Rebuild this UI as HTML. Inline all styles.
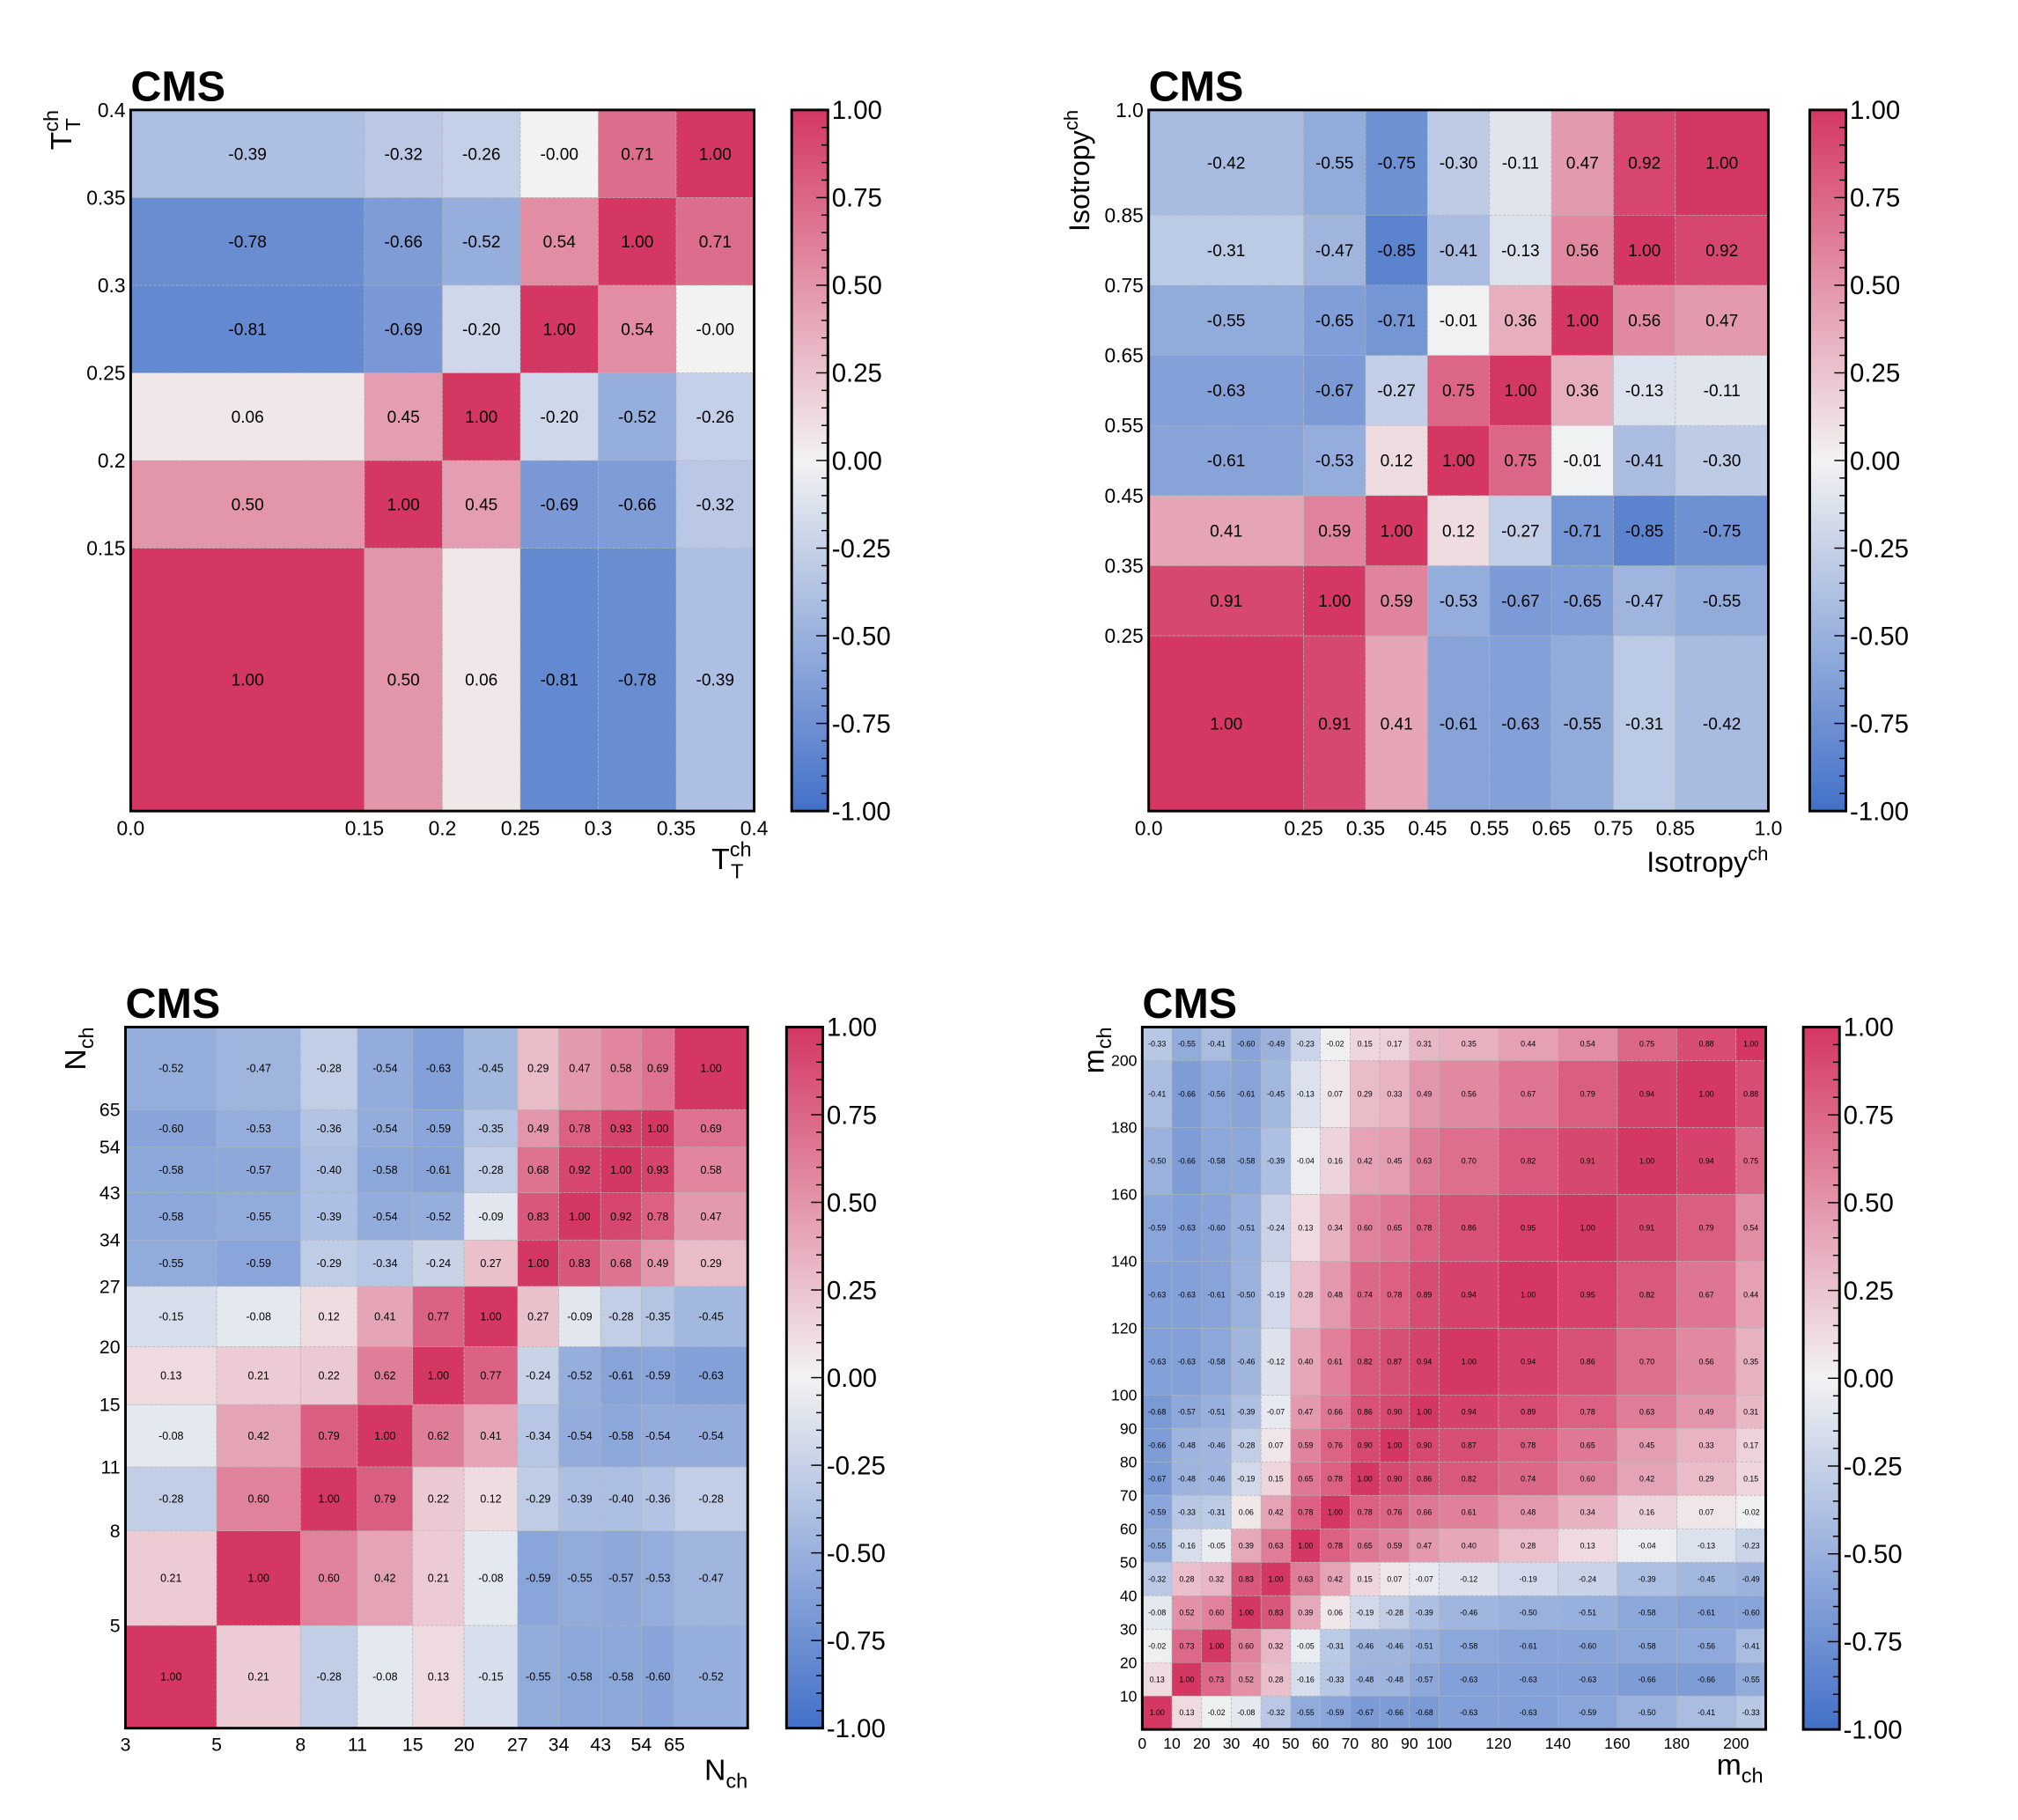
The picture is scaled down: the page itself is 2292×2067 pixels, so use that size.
<!DOCTYPE html>
<html><head><meta charset="utf-8"><style>
html,body{margin:0;padding:0;background:#fff;}
svg{display:block;}
text{font-family:"Liberation Sans",Arial,sans-serif;fill:#000;}
</style></head><body>
<svg id="fig" xmlns="http://www.w3.org/2000/svg" width="2292" height="2067" viewBox="0 0 1560 1407" preserveAspectRatio="none">
<defs>
<linearGradient id="cmap" x1="0" y1="1" x2="0" y2="0">
<stop offset="0" stop-color="rgb(66,112,200)"/>
<stop offset="0.5" stop-color="rgb(242,242,242)"/>
<stop offset="1" stop-color="rgb(212,55,98)"/>
</linearGradient>
</defs>
</svg>
<script>
// ---- data ----
const ttEdges = [0,0.15,0.2,0.25,0.3,0.35,0.4];
const ttTicks = ["0.0","0.15","0.2","0.25","0.3","0.35","0.4"];
const ttTickVals = [0,0.15,0.2,0.25,0.3,0.35,0.4];
const ttYTicks = ["0.15","0.2","0.25","0.3","0.35","0.4"];
const ttYTickVals = [0.15,0.2,0.25,0.3,0.35,0.4];
const ttValues = [
[1.00,0.50,0.06,-0.81,-0.78,-0.39],
[0.50,1.00,0.45,-0.69,-0.66,-0.32],
[0.06,0.45,1.00,-0.20,-0.52,-0.26],
[-0.81,-0.69,-0.20,1.00,0.54,-0.00],
[-0.78,-0.66,-0.52,0.54,1.00,0.71],
[-0.39,-0.32,-0.26,-0.00,0.71,1.00]
];
const isoEdges = [0,0.25,0.35,0.45,0.55,0.65,0.75,0.85,1.0];
const isoTicks = ["0.0","0.25","0.35","0.45","0.55","0.65","0.75","0.85","1.0"];
const isoTickVals = [0,0.25,0.35,0.45,0.55,0.65,0.75,0.85,1.0];
const isoYTicks = ["0.25","0.35","0.45","0.55","0.65","0.75","0.85","1.0"];
const isoYTickVals = [0.25,0.35,0.45,0.55,0.65,0.75,0.85,1.0];
const isoValues = [
[1.00,0.91,0.41,-0.61,-0.63,-0.55,-0.31,-0.42],
[0.91,1.00,0.59,-0.53,-0.67,-0.65,-0.47,-0.55],
[0.41,0.59,1.00,0.12,-0.27,-0.71,-0.85,-0.75],
[-0.61,-0.53,0.12,1.00,0.75,-0.01,-0.41,-0.30],
[-0.63,-0.67,-0.27,0.75,1.00,0.36,-0.13,-0.11],
[-0.55,-0.65,-0.71,-0.01,0.36,1.00,0.56,0.47],
[-0.31,-0.47,-0.85,-0.41,-0.13,0.56,1.00,0.92],
[-0.42,-0.55,-0.75,-0.30,-0.11,0.47,0.92,1.00]
];
const nEdges = [3,5,8,11,15,20,27,34,43,54,65,98];
const nTicks = ["3","5","8","11","15","20","27","34","43","54","65"];
const nTickVals = [3,5,8,11,15,20,27,34,43,54,65];
const nYTicks = ["5","8","11","15","20","27","34","43","54","65"];
const nYTickVals = [5,8,11,15,20,27,34,43,54,65];
const nValues = [
[1.00,0.21,-0.28,-0.08,0.13,-0.15,-0.55,-0.58,-0.58,-0.60,-0.52],
[0.21,1.00,0.60,0.42,0.21,-0.08,-0.59,-0.55,-0.57,-0.53,-0.47],
[-0.28,0.60,1.00,0.79,0.22,0.12,-0.29,-0.39,-0.40,-0.36,-0.28],
[-0.08,0.42,0.79,1.00,0.62,0.41,-0.34,-0.54,-0.58,-0.54,-0.54],
[0.13,0.21,0.22,0.62,1.00,0.77,-0.24,-0.52,-0.61,-0.59,-0.63],
[-0.15,-0.08,0.12,0.41,0.77,1.00,0.27,-0.09,-0.28,-0.35,-0.45],
[-0.55,-0.59,-0.29,-0.34,-0.24,0.27,1.00,0.83,0.68,0.49,0.29],
[-0.58,-0.55,-0.39,-0.54,-0.52,-0.09,0.83,1.00,0.92,0.78,0.47],
[-0.58,-0.57,-0.40,-0.58,-0.61,-0.28,0.68,0.92,1.00,0.93,0.58],
[-0.60,-0.53,-0.36,-0.54,-0.59,-0.35,0.49,0.78,0.93,1.00,0.69],
[-0.52,-0.47,-0.28,-0.54,-0.63,-0.45,0.29,0.47,0.58,0.69,1.00]
];
const mEdges = [0,10,20,30,40,50,60,70,80,90,100,120,140,160,180,200,210];
const mTicks = ["0","10","20","30","40","50","60","70","80","90","100","120","140","160","180","200"];
const mTickVals = [0,10,20,30,40,50,60,70,80,90,100,120,140,160,180,200];
const mYTicks = ["10","20","30","40","50","60","70","80","90","100","120","140","160","180","200"];
const mYTickVals = [10,20,30,40,50,60,70,80,90,100,120,140,160,180,200];
const mValues = [
[1.00,0.13,-0.02,-0.08,-0.32,-0.55,-0.59,-0.67,-0.66,-0.68,-0.63,-0.63,-0.59,-0.50,-0.41,-0.33],
[0.13,1.00,0.73,0.52,0.28,-0.16,-0.33,-0.48,-0.48,-0.57,-0.63,-0.63,-0.63,-0.66,-0.66,-0.55],
[-0.02,0.73,1.00,0.60,0.32,-0.05,-0.31,-0.46,-0.46,-0.51,-0.58,-0.61,-0.60,-0.58,-0.56,-0.41],
[-0.08,0.52,0.60,1.00,0.83,0.39,0.06,-0.19,-0.28,-0.39,-0.46,-0.50,-0.51,-0.58,-0.61,-0.60],
[-0.32,0.28,0.32,0.83,1.00,0.63,0.42,0.15,0.07,-0.07,-0.12,-0.19,-0.24,-0.39,-0.45,-0.49],
[-0.55,-0.16,-0.05,0.39,0.63,1.00,0.78,0.65,0.59,0.47,0.40,0.28,0.13,-0.04,-0.13,-0.23],
[-0.59,-0.33,-0.31,0.06,0.42,0.78,1.00,0.78,0.76,0.66,0.61,0.48,0.34,0.16,0.07,-0.02],
[-0.67,-0.48,-0.46,-0.19,0.15,0.65,0.78,1.00,0.90,0.86,0.82,0.74,0.60,0.42,0.29,0.15],
[-0.66,-0.48,-0.46,-0.28,0.07,0.59,0.76,0.90,1.00,0.90,0.87,0.78,0.65,0.45,0.33,0.17],
[-0.68,-0.57,-0.51,-0.39,-0.07,0.47,0.66,0.86,0.90,1.00,0.94,0.89,0.78,0.63,0.49,0.31],
[-0.63,-0.63,-0.58,-0.46,-0.12,0.40,0.61,0.82,0.87,0.94,1.00,0.94,0.86,0.70,0.56,0.35],
[-0.63,-0.63,-0.61,-0.50,-0.19,0.28,0.48,0.74,0.78,0.89,0.94,1.00,0.95,0.82,0.67,0.44],
[-0.59,-0.63,-0.60,-0.51,-0.24,0.13,0.34,0.60,0.65,0.78,0.86,0.95,1.00,0.91,0.79,0.54],
[-0.50,-0.66,-0.58,-0.58,-0.39,-0.04,0.16,0.42,0.45,0.63,0.70,0.82,0.91,1.00,0.94,0.75],
[-0.41,-0.66,-0.56,-0.61,-0.45,-0.13,0.07,0.29,0.33,0.49,0.56,0.67,0.79,0.94,1.00,0.88],
[-0.33,-0.55,-0.41,-0.60,-0.49,-0.23,-0.02,0.15,0.17,0.31,0.35,0.44,0.54,0.75,0.88,1.00]
];
const cbTicks = ["1.00","0.75","0.50","0.25","0.00","-0.25","-0.50","-0.75","-1.00"];
const cbTickVals = [1,0.75,0.5,0.25,0,-0.25,-0.5,-0.75,-1];

const NS = "http://www.w3.org/2000/svg";
const svg = document.getElementById('fig');
function mk(tag, attrs, parent){
  const e = document.createElementNS(NS, tag);
  for (const k in attrs) e.setAttribute(k, attrs[k]);
  (parent||svg).appendChild(e);
  return e;
}
function color(v){
  const lo=[66,112,200], mid=[242,242,242], hi=[212,55,98];
  const t=Math.abs(v), end = v<0?lo:hi;
  const c = mid.map((m,i)=>Math.round(m+(end[i]-m)*t));
  return `rgb(${c[0]},${c[1]},${c[2]})`;
}
function fmt(v){
  const s = v.toFixed(2);
  return (Object.is(v,-0) || (v<0 && s.charAt(0)!=='-')) ? '-'+s : s;
}
function scale(d0,d1,r0,r1,log){
  const f = log?Math.log:(x=>x);
  return v => r0 + (f(v)-f(d0))/(f(d1)-f(d0))*(r1-r0);
}

function plot(cfg){
  const g = mk('g',{});
  
  
  const E = cfg.edges, n = E.length-1;
  const sx = scale(E[0],E[n],cfg.x0,cfg.x1,cfg.log);
  const sy = scale(E[0],E[n],cfg.y1,cfg.y0,cfg.log);
  for (let r=0;r<n;r++){
    for (let c=0;c<n;c++){
      const v = cfg.values[r][c];
      const x=sx(E[c]), x2=sx(E[c+1]), y=sy(E[r+1]), y2=sy(E[r]);
      const rc = mk('rect',{x:x,y:y,width:x2-x,height:y2-y,fill:color(v),stroke:'#b4b4b4','stroke-width':0.5,'stroke-dasharray':'2,1.5'},g);
      
      
      const t = mk('text',{x:(x+x2)/2,y:(y+y2)/2+cfg.cfs*0.35,'text-anchor':'middle','font-size':cfg.cfs},g);
      
      
      t.textContent = fmt(v);
    }
  }
  const fr = mk('rect',{x:cfg.x0,y:cfg.y0,width:cfg.x1-cfg.x0,height:cfg.y1-cfg.y0,fill:'none',stroke:'#000','stroke-width':2},g);
  
  
  cfg.xt.forEach((lab,i)=>{
    const t = mk('text',{x:sx(cfg.xtv[i]),y:cfg.y1+cfg.tfs+3,'text-anchor':'middle','font-size':cfg.tfs},g);
    
    
    t.textContent = lab;
  });
  cfg.yt.forEach((lab,i)=>{
    const t = mk('text',{x:cfg.x0-4,y:sy(cfg.ytv[i])+cfg.tfs*0.35,'text-anchor':'end','font-size':cfg.tfs},g);
    
    
    t.textContent = lab;
  });
  const cms = mk('text',{x:cfg.x0,y:cfg.y0-7,'font-size':33,'font-weight':'bold'},g);
  
  
  cms.textContent = 'CMS';
  const cb = mk('g',{},g);
  
  
  const cx=cfg.cbx, cw=28;
  mk('rect',{x:cx,y:cfg.y0,width:cw,height:cfg.y1-cfg.y0,fill:'url(#cmap)',stroke:'#000','stroke-width':2},cb);
  const cs = scale(-1,1,cfg.y1,cfg.y0,false);
  for (let k=0;k<=40;k++){
    const v=-1+k*0.05, yy=cs(v);
    const major = (k%5===0);
    mk('line',{x1:cx+cw,x2:cx+cw-(major?9:5),y1:yy,y2:yy,stroke:'#000','stroke-width':1},cb);
  }
  cbTicks.forEach((lab,i)=>{
    const t = mk('text',{x:cx+cw+3,y:cs(cbTickVals[i])+7,'font-size':20},cb);
    
    
    t.textContent = lab;
  });
  return g;
}

plot({name:'tt-correlation-plot',edges:ttEdges,values:ttValues,x0:101,x1:583,y0:85,y1:627,cbx:612,cfs:13,tfs:15.5,xt:ttTicks,xtv:ttTickVals,yt:ttYTicks,ytv:ttYTickVals});
plot({name:'isotropy-correlation-plot',edges:isoEdges,values:isoValues,x0:888,x1:1367,y0:85,y1:627,cbx:1399,cfs:13,tfs:15.5,xt:isoTicks,xtv:isoTickVals,yt:isoYTicks,ytv:isoYTickVals});
plot({name:'nch-correlation-plot',edges:nEdges,values:nValues,x0:97,x1:578,y0:794,y1:1336,cbx:608,cfs:8.5,tfs:14.5,log:true,xt:nTicks,xtv:nTickVals,yt:nYTicks,ytv:nYTickVals});
plot({name:'mch-correlation-plot',edges:mEdges,values:mValues,x0:883,x1:1365,y0:794,y1:1337,cbx:1394,cfs:6,tfs:12,xt:mTicks,xtv:mTickVals,yt:mYTicks,ytv:mYTickVals});

svg.insertAdjacentHTML('beforeend', `
<text x="550" y="672" font-size="23">T<tspan font-size="16" dy="-10">ch</tspan><tspan font-size="16" dx="-16" dy="17">T</tspan></text>
<text transform="translate(55,85) rotate(-90)" text-anchor="end" font-size="23">T<tspan font-size="16" dy="-10">ch</tspan><tspan font-size="16" dx="-16" dy="17">T</tspan></text>
<text x="1367" y="674" text-anchor="end" font-size="22">Isotropy<tspan font-size="15" dy="-9">ch</tspan></text>
<text transform="translate(842,85) rotate(-90)" text-anchor="end" font-size="22">Isotropy<tspan font-size="15" dy="-9">ch</tspan></text>
<text x="578" y="1376" text-anchor="end" font-size="23">N<tspan font-size="16" dy="6">ch</tspan></text>
<text transform="translate(66,794) rotate(-90)" text-anchor="end" font-size="23">N<tspan font-size="16" dy="6">ch</tspan></text>
<text x="1363" y="1372" text-anchor="end" font-size="23">m<tspan font-size="16" dy="6">ch</tspan></text>
<text transform="translate(853,794) rotate(-90)" text-anchor="end" font-size="23">m<tspan font-size="16" dy="6">ch</tspan></text>
`);
</script>
</body></html>
